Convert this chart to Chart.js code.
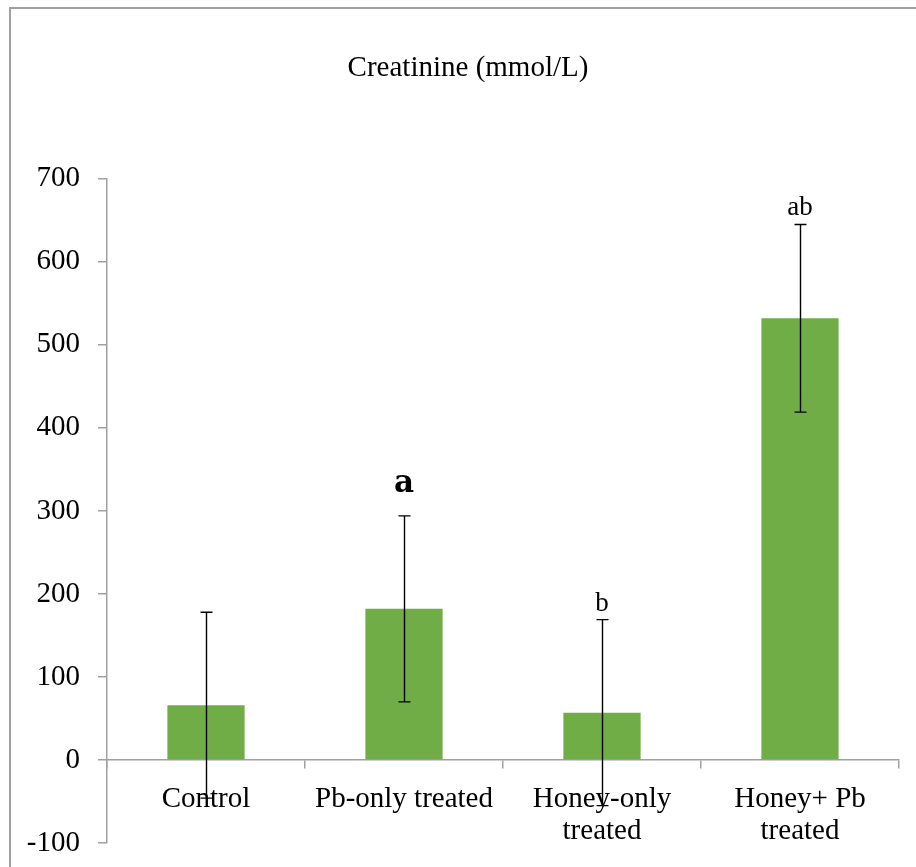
<!DOCTYPE html>
<html>
<head>
<meta charset="utf-8">
<script src="https://cdn.jsdelivr.net/npm/chart.js@4.4.0/dist/chart.umd.min.js"></script>
<style>
  html, body { margin: 0; padding: 0; background: #fff; overflow: hidden; }
  #wrap { position: relative; width: 916px; height: 867px; }
  #frame { position: absolute; left: 9px; top: 7px; width: 1000px; height: 1000px;
           border-top: 2px solid #a0a0a0; border-left: 2px solid #a0a0a0; pointer-events: none; }
</style>
</head>
<body>
<div id="wrap">
  <canvas id="c" width="916" height="867"></canvas>
  <div id="frame"></div>
</div>
<script>
// ── DATA ───────────────────────────────────────────────
const groups  = [['Control'], ['Pb-only treated'], ['Honey-only', 'treated'], ['Honey+ Pb', 'treated']];
const means   = [66, 182, 57, 532];
const errors  = [112, 112, 112, 113];
const letters = ['', 'a', 'b', 'ab'];
const yMin = -100, yMax = 700, yStep = 100;

// ── STYLE ──────────────────────────────────────────────
const serif = 'Liberation Serif, Times New Roman, serif';
const axisGray = '#a0a0a0';
const barGreen = '#70ad47';

// let the y labels spill left of the padded area ("-100" is wider than the box)
const unclipY = {
  id: 'unclipY',
  afterLayout(chart) { chart.scales.y.left = 0; }
};

// error bars + significance letters
const errorBars = {
  id: 'errorBars',
  afterDatasetsDraw(chart) {
    const { ctx } = chart;
    const y = chart.scales.y;
    const meta = chart.getDatasetMeta(0);
    ctx.save();
    ctx.strokeStyle = '#000';
    ctx.lineWidth = 1.4;
    meta.data.forEach((bar, i) => {
      const x = Math.round(bar.x) + 0.5;
      const top = y.getPixelForValue(means[i] + errors[i]);
      const bot = y.getPixelForValue(means[i] - errors[i]);
      ctx.beginPath();
      ctx.moveTo(x, top); ctx.lineTo(x, bot);
      ctx.moveTo(x - 6, top); ctx.lineTo(x + 6, top);
      ctx.moveTo(x - 6, bot); ctx.lineTo(x + 6, bot);
      ctx.stroke();

      if (letters[i]) {
        const big = letters[i] === 'a';
        ctx.fillStyle = '#000';
        ctx.textAlign = 'center';
        ctx.textBaseline = 'alphabetic';
        ctx.font = big ? 'bold 31px DejaVu Serif' : '27px ' + serif;
        ctx.fillText(letters[i], bar.x, top - (big ? 24 : 9));
      }
    });
    ctx.restore();
  }
};

new Chart(document.getElementById('c'), {
  type: 'bar',
  data: {
    labels: groups,
    datasets: [{
      data: means,
      backgroundColor: barGreen,
      borderWidth: 0,
      barPercentage: 0.39,
      categoryPercentage: 1.0
    }]
  },
  options: {
    responsive: false,
    animation: false,
    layout: { padding: { left: 37, right: 17, top: 0, bottom: 24 } },
    plugins: {
      legend: { display: false },
      tooltip: { enabled: false },
      title: {
        display: true,
        text: 'Creatinine (mmol/L)',
        color: '#000',
        font: { family: serif, size: 29, weight: 'normal' },
        padding: { top: 51, bottom: 93 }
      }
    },
    scales: {
      x: {
        position: { y: 0 },
        grid: { offset: true, drawOnChartArea: false, tickLength: 8, color: axisGray, lineWidth: 1.5 },
        border: { color: axisGray, width: 1.5 },
        ticks: {
          color: '#000',
          font: { family: serif, size: 29, lineHeight: 1.12 },
          maxRotation: 0,
          autoSkip: false,
          padding: 15
        }
      },
      y: {
        min: yMin,
        max: yMax,
        afterFit: s => { s.width = 70; s.paddingTop = 0; s.paddingBottom = 0; },
        grid: { drawOnChartArea: false, tickLength: 9, color: axisGray, lineWidth: 1.5 },
        border: { color: axisGray, width: 1.5 },
        ticks: {
          stepSize: yStep,
          color: '#000',
          font: { family: serif, size: 29 },
          padding: 18
        }
      }
    }
  },
  plugins: [unclipY, errorBars]
});
</script>
</body>
</html>
